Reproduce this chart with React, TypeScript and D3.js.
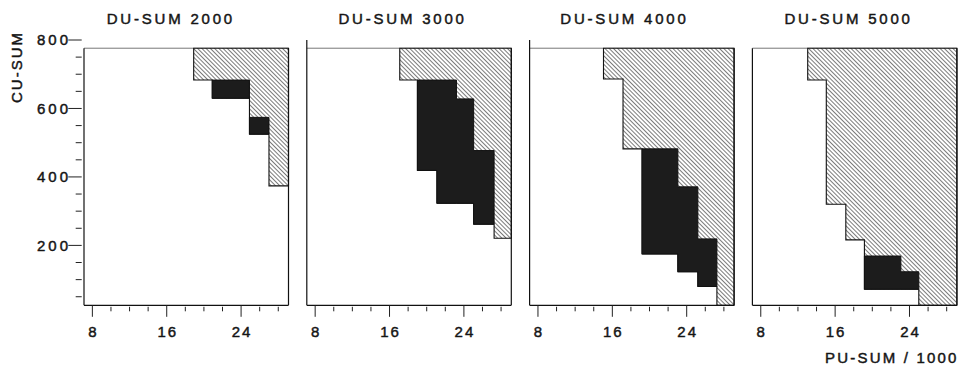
import React from "react";
import * as d3 from "d3";

// ---------- data ----------
const panelTitles = ["DU-SUM 2000", "DU-SUM 3000", "DU-SUM 4000", "DU-SUM 5000"];
const yAxisTitle = "CU-SUM";
const xAxisTitle = "PU-SUM / 1000";

const xTicks = [8, 10, 12, 14, 16, 18, 20, 22, 24, 26, 28];
const xTickLabels = [8, 16, 24];
const yTicks = [50, 100, 150, 200, 250, 300, 350, 400, 450, 500, 550, 600, 650, 700, 750, 800];
const yTickLabels = [200, 400, 600, 800];

const cuTop = 776;
const cuBottom = 25;
const puMin = 7.1;
const puMax = 29.1;

// hatched (feasible) staircase: [PU-SUM step start, CU-SUM lower bound]
const hatch2000 = [[18.9, 683], [20.9, 630], [24.9, 525], [27.0, 374]];
const hatch3000 = [[17.1, 683], [19.0, 419], [21.1, 323], [25.05, 262], [27.25, 221]];
const hatch4000 = [[15.05, 686], [17.15, 482], [19.2, 175], [23.05, 123], [25.2, 80], [27.25, 25]];
const hatch5000 = [[13.05, 683], [15.05, 320], [17.15, 216], [19.15, 72], [25.0, 25]];

// black (optimal) regions: groups of columns [x0, x1, low, high]
const black2000 = [[[20.9, 24.9, 630, 683]], [[24.9, 27.0, 525, 574]]];
const black3000 = [[[19.0, 21.1, 419, 683], [21.1, 23.2, 323, 683], [23.2, 25.05, 323, 628], [25.05, 27.25, 262, 477]]];
const black4000 = [[[19.2, 23.05, 175, 482], [23.05, 25.2, 123, 371], [25.2, 27.25, 80, 219]]];
const black5000 = [[[19.15, 23.07, 72, 169], [23.07, 25.0, 72, 123]]];

const hatchData = [hatch2000, hatch3000, hatch4000, hatch5000];
const blackData = [black2000, black3000, black4000, black5000];

// ---------- layout ----------
const W = 961;
const H = 369;
const panelLeft0 = 84;
const panelStep = 222.8;
const panelWidth = 204.5;
const titleOffsets = [22.7, 31.6, 30.7, 32];
const leftLineToTick = [false, true, true, false];
const FONT = "'Liberation Sans', Arial, Helvetica, sans-serif";
const TEXT_STROKE = 0.45;

const yScale = d3.scaleLinear().domain([cuBottom, 800]).range([305.3, 40]);

function hatchPoints(steps: number[][]): [number, number][] {
  const pts: [number, number][] = [];
  const n = steps.length;
  pts.push([steps[0][0], cuTop]);
  pts.push([puMax, cuTop]);
  pts.push([puMax, steps[n - 1][1]]);
  for (let i = n - 1; i >= 0; i--) {
    pts.push([steps[i][0], steps[i][1]]);
    if (i > 0) pts.push([steps[i][0], steps[i - 1][1]]);
  }
  return pts;
}

function blackPoints(cols: number[][]): [number, number][] {
  const pts: [number, number][] = [];
  cols.forEach((c) => {
    pts.push([c[0], c[3]]);
    pts.push([c[1], c[3]]);
  });
  for (let i = cols.length - 1; i >= 0; i--) {
    const c = cols[i];
    pts.push([c[1], c[2]]);
    pts.push([c[0], c[2]]);
  }
  return pts;
}

const textProps = {
  fontFamily: FONT,
  fontSize: 15,
  fill: "#151515",
  stroke: "#151515",
  strokeWidth: TEXT_STROKE,
};

function Panel({ idx }: { idx: number }) {
  const left = panelLeft0 + idx * panelStep;
  const xScale = d3.scaleLinear().domain([puMin, puMax]).range([left, left + panelWidth]);
  const line = d3
    .line<[number, number]>()
    .x((d) => xScale(d[0]))
    .y((d) => yScale(d[1]))
    .curve(d3.curveLinearClosed);
  const yTop = yScale(cuTop);
  const yBot = yScale(cuBottom);
  const xL = xScale(puMin);
  const xR = xScale(puMax);
  return (
    <g>
      <text x={left + titleOffsets[idx]} y={23.5} letterSpacing={2.8} {...textProps}>
        {panelTitles[idx]}
      </text>
      {/* frame */}
      <line x1={xL} x2={xR} y1={yTop} y2={yTop} stroke="#777" strokeWidth={1} />
      <path d={line(hatchPoints(hatchData[idx]) as any) || ""} fill="url(#hatch)" stroke="#111" strokeWidth={1.1} />
      {blackData[idx].map((g, j) => (
        <path key={j} d={line(blackPoints(g) as any) || ""} fill="#1c1c1c" stroke="#111" strokeWidth={1} />
      ))}
      <line x1={xL} x2={xL} y1={leftLineToTick[idx] ? yScale(800) : yTop} y2={yBot} stroke="#111" strokeWidth={1.2} />
      <line x1={xL} x2={xR} y1={yBot} y2={yBot} stroke="#111" strokeWidth={1.2} />
      <line x1={xR} x2={xR} y1={yTop} y2={yBot} stroke="#111" strokeWidth={1.2} />
      {/* x ticks */}
      {xTicks.map((t) => {
        const major = xTickLabels.includes(t);
        return (
          <line
            key={t}
            x1={xScale(t)}
            x2={xScale(t)}
            y1={yBot + (major ? 0 : 1.5)}
            y2={yBot + (major ? 11.5 : 6)}
            stroke="#222"
            strokeWidth={1}
          />
        );
      })}
      {xTickLabels.map((t) => (
        <text key={t} x={xScale(t) + 1} y={337.3} textAnchor="middle" letterSpacing={2} {...textProps}>
          {t}
        </text>
      ))}
      {idx === 0 && (
        <g>
          {yTicks.map((t) => {
            const major = yTickLabels.includes(t);
            return (
              <line
                key={t}
                x1={xL - 2.3 - (major ? 13.4 : 6)}
                x2={xL - 2.3}
                y1={yScale(t)}
                y2={yScale(t)}
                stroke="#222"
                strokeWidth={1}
              />
            );
          })}
          {yTickLabels.map((t) => (
            <text key={t} x={68 + 3} y={yScale(t)} dy="0.36em" textAnchor="end" letterSpacing={3} {...textProps}>
              {t}
            </text>
          ))}
        </g>
      )}
    </g>
  );
}

export default function App() {
  return (
    <svg
      width={W}
      height={H}
      viewBox={`0 0 ${W} ${H}`}
      style={{ position: "absolute", left: 0, top: 0, background: "#fff" }}
    >
      <defs>
        <pattern id="hatch" patternUnits="userSpaceOnUse" width={3} height={3} patternTransform="rotate(-45)">
          <rect width={3} height={3} fill="#fff" />
          <line x1={0} y1={0} x2={0} y2={3} stroke="#333" strokeWidth={1.3} />
        </pattern>
      </defs>
      <rect width={W} height={H} fill="#fff" />
      {panelTitles.map((_, i) => (
        <Panel key={i} idx={i} />
      ))}
      <text transform={`translate(21.5, 67) rotate(-90)`} textAnchor="middle" letterSpacing={2} {...textProps}>
        {yAxisTitle}
      </text>
      <text x={825} y={363} letterSpacing={2.2} {...textProps}>
        {xAxisTitle}
      </text>
    </svg>
  );
}
